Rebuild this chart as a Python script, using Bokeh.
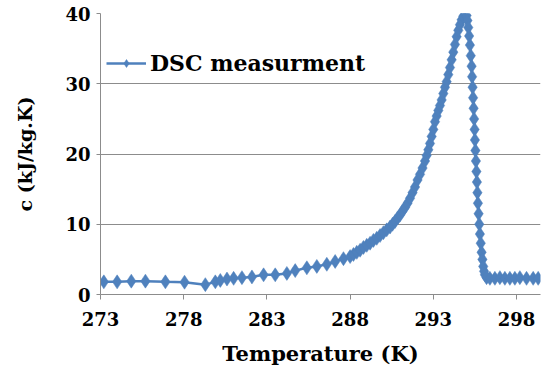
from bokeh.plotting import figure
from bokeh.models import Range1d, FixedTicker, Legend, LegendItem
from bokeh.embed import file_html
from bokeh.resources import INLINE

temperature = [
    273.2, 274.0, 274.85, 275.7, 276.9, 278.05, 279.3, 279.9, 280.2, 280.6,
    281.0, 281.5, 282.1, 282.8, 283.5, 284.2, 284.7, 285.4, 286.0, 286.6,
    287.1, 287.6, 288.0, 288.2, 288.4, 288.6, 288.8, 289.0, 289.2, 289.4,
    289.6, 289.8, 290.0, 290.2, 290.4, 290.55, 290.7, 290.85, 291.0, 291.15,
    291.3, 291.45, 291.6, 291.75, 291.9, 292.05, 292.2, 292.35, 292.5, 292.6,
    292.7, 292.8, 292.9, 293.0, 293.1, 293.2, 293.3, 293.4, 293.5, 293.6,
    293.7, 293.8, 293.9, 294.0, 294.1, 294.2, 294.3, 294.4, 294.5, 294.6,
    294.7, 294.8, 294.9, 295.0, 295.05, 295.1, 295.15, 295.2, 295.25, 295.3,
    295.33, 295.36, 295.39, 295.42, 295.45, 295.48, 295.5, 295.53, 295.56, 295.59,
    295.62, 295.65, 295.68, 295.72, 295.76, 295.8, 295.85, 295.9, 295.95, 296.0,
    296.05, 296.1, 296.2, 296.4, 296.7, 297.0, 297.3, 297.6, 297.9, 298.2,
    298.6, 299.0, 299.3,
]
specific_heat = [
    1.8, 1.8, 1.9, 1.9, 1.8, 1.75, 1.4, 1.8, 2.0, 2.2,
    2.3, 2.4, 2.5, 2.8, 2.8, 3.0, 3.4, 3.8, 4.0, 4.3,
    4.7, 5.1, 5.4, 5.7, 6.0, 6.3, 6.7, 7.0, 7.3, 7.7,
    8.0, 8.4, 8.8, 9.2, 9.6, 10.0, 10.4, 10.9, 11.3, 11.9,
    12.4, 13.0, 13.7, 14.5, 15.3, 16.3, 17.1, 18.0, 19.0, 19.8,
    20.6, 21.5, 22.5, 23.5, 24.6, 25.4, 26.2, 26.9, 27.7, 28.6,
    29.5, 30.3, 31.3, 32.3, 33.4, 34.5, 35.6, 36.7, 37.6, 38.4,
    39.1, 39.6, 39.9, 39.7, 39.0, 38.0, 36.8, 35.5, 34.0, 32.5,
    31.0, 29.5, 28.0, 26.5, 25.0, 23.5, 22.0, 20.5, 19.0, 17.5,
    16.0, 14.5, 13.0, 11.5, 10.0, 8.6, 7.3, 6.0, 5.0, 4.0,
    3.3, 2.8, 2.4, 2.3, 2.3, 2.4, 2.3, 2.3, 2.3, 2.4,
    2.3, 2.3, 2.3,
]
x_ticks = [273, 278, 283, 288, 293, 298]
y_ticks = [0, 10, 20, 30, 40]
series_name = "DSC measurment"

BLUE = "#4F81BD"
GRID = "#8C8C8C"
FONT = "DejaVu Serif"

p = figure(width=542, height=370, output_backend="svg", toolbar_location=None,
           x_range=Range1d(273, 299.44), y_range=Range1d(0, 40),
           min_border_left=100, min_border_right=2, min_border_top=13,
           min_border_bottom=76)
p.outline_line_color = None
p.background_fill_color = "white"
p.border_fill_color = "white"

ln = p.line(temperature, specific_heat, line_color=BLUE, line_width=2.5)
sc = p.scatter(temperature, specific_heat, marker="diamond", size=14,
               fill_color=BLUE, line_color=BLUE, line_width=0.5)

p.xgrid.grid_line_color = None
p.ygrid.grid_line_color = GRID
p.ygrid.grid_line_width = 1

p.xaxis.ticker = FixedTicker(ticks=x_ticks)
p.yaxis.ticker = FixedTicker(ticks=y_ticks)
for ax in (p.xaxis[0], p.yaxis[0]):
    ax.axis_line_color = GRID
    ax.major_tick_line_color = GRID
    ax.minor_tick_line_color = None
    ax.major_tick_in = 0
    ax.major_label_text_font = FONT
    ax.major_label_text_font_style = "bold"
    ax.major_label_text_font_size = "18px"
    ax.major_label_text_color = "black"
    ax.axis_label_text_font = FONT
    ax.axis_label_text_font_style = "bold"
    ax.axis_label_text_color = "black"

p.xaxis.major_tick_out = 5
p.yaxis.major_tick_out = 4
p.xaxis.major_label_standoff = 12
p.yaxis.major_label_standoff = 6
p.xaxis.axis_label = "Temperature (K)"
p.yaxis.axis_label = "c (kJ/kg.K)"
p.xaxis.axis_label_text_font_size = "21px"
p.yaxis.axis_label_text_font_size = "19px"
p.xaxis.axis_label_standoff = 12
p.yaxis.axis_label_standoff = 26

legend = Legend(items=[LegendItem(label=series_name, renderers=[ln, sc])],
                location=(6, 218), padding=0, margin=0,
                border_line_color=None, background_fill_alpha=0,
                glyph_width=40, glyph_height=20, label_standoff=4,
                label_text_font=FONT, label_text_font_style="bold",
                label_text_font_size="22px", label_text_color="black")
p.add_layout(legend)

open("out.html", "w").write(file_html(p, INLINE))
